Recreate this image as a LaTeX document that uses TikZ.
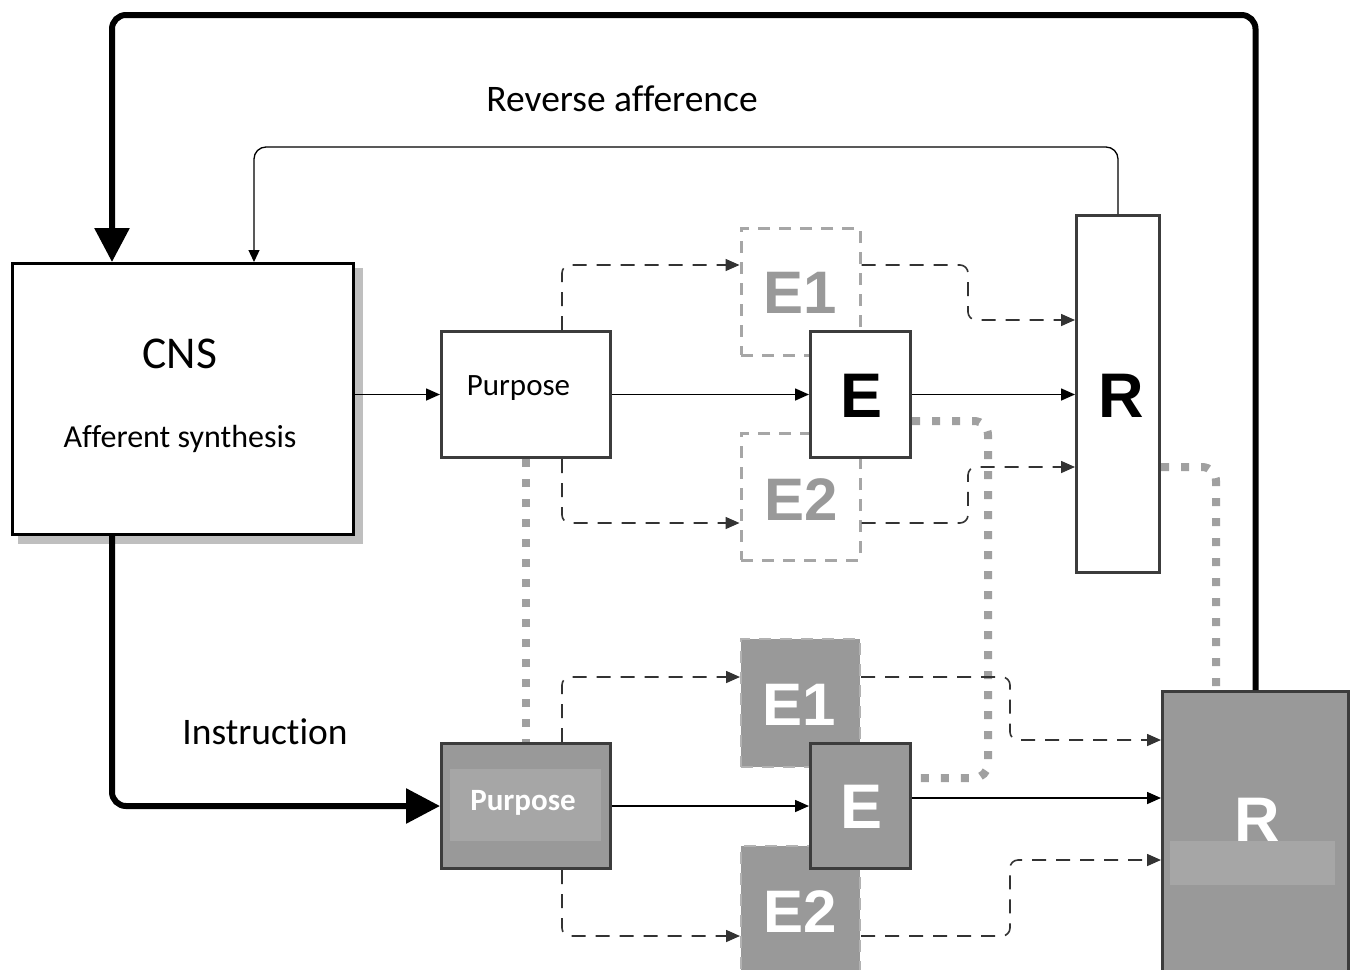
\documentclass[tikz,border=0pt]{standalone}
\usepackage{fontspec}
\setmainfont[Ligatures={NoCommon}]{Carlito}
\newfontfamily\arialf{Liberation Sans}
\usetikzlibrary{arrows.meta}
\definecolor{boxc}{HTML}{3C3C3C}
\definecolor{ghostc}{HTML}{A6A6A6}
\definecolor{ghosttxt}{HTML}{999999}
\definecolor{grayf}{HTML}{999999}
\definecolor{lightf}{HTML}{A6A6A6}
\definecolor{dashl}{HTML}{B2B2B2}
\definecolor{dashc}{HTML}{333333}
\definecolor{dotg}{HTML}{A0A0A0}
\definecolor{shadowc}{HTML}{BFBFBF}
\begin{document}
\begin{tikzpicture}[x=1pt,y=-1pt,
  box/.style={draw=boxc, line width=3pt, fill=white, inner sep=0pt},
  cnsbox/.style={draw=black, line width=3pt, fill=white, inner sep=0pt},
  ghost/.style={draw=ghostc, line width=3pt, dash pattern=on 12pt off 9pt, inner sep=0pt},
  gbox/.style={fill=grayf, draw=dashl, line width=2pt, dash pattern=on 12pt off 9pt, inner sep=0pt},
  dbox/.style={fill=grayf, draw=boxc, line width=3pt, inner sep=0pt},
  conn/.style={line width=1.6pt, -{Triangle[length=14pt,width=12pt]}},
  dconn/.style={conn, draw=dashc, dash pattern=on 14pt off 10pt, rounded corners=8pt},
  dotc/.style={draw=dotg, line width=8pt, dash pattern=on 8pt off 12pt, rounded corners=14pt},
  thickc/.style={line width=6pt, rounded corners=14pt, -{Triangle[length=34pt,width=34pt]}},
  txt/.style={anchor=base, inner sep=0pt},
  bigl/.style={txt, font=\arialf\bfseries\fontsize{63}{70}\selectfont},
]
\clip (0,0) rectangle (1357,969);
\fill[white] (0,0) rectangle (1357,969);

% shadow
\fill[shadowc] (18,268) rectangle (363,544);
% boxes
\node[cnsbox, minimum width=341pt, minimum height=271pt] (CNS) at (183,399) {};
\node[ghost, minimum width=119pt, minimum height=127pt] (E1T) at (800.5,291.5) {};
\node[ghost, minimum width=119pt, minimum height=127pt] (E2T) at (800.5,496.5) {};
\node[box, minimum width=169pt, minimum height=126pt] (PurT) at (526,394.5) {};
\node[box, minimum width=100pt, minimum height=126pt] (ET) at (860.5,394.5) {};
\node[box, minimum width=83pt, minimum height=357pt] (RT) at (1118,394) {};

\node[gbox, minimum width=119pt, minimum height=128pt] (E1B) at (800.5,703) {};
\node[gbox, minimum width=119pt, minimum height=134pt] (E2B) at (800.5,913) {};
\node[dbox, minimum width=169pt, minimum height=125pt] (PurB) at (526,806) {};
\node[dbox, minimum width=100pt, minimum height=125pt] (EB) at (860.5,806) {};
\node[dbox, minimum width=186pt, minimum height=298pt] (RB) at (1255.5,840.5) {};
\fill[lightf] (450,769) rectangle (601,841);

% texts
\node[txt, font=\fontsize{45.5}{54}\selectfont] (tCNS) at (180,368) {CNS};
\node[txt, font=\fontsize{32}{38}\selectfont] (tAff) at (180,447) {Afferent synthesis};
\node[txt, font=\fontsize{37.5}{44}\selectfont] (tRev) at (622,111) {Reverse afference};
\node[txt, font=\fontsize{37.5}{44}\selectfont] (tIns) at (265,744) {Instruction};
\node[txt, font=\fontsize{31}{38}\selectfont] (tPT) at (518.5,395) {Purpose};
\node[txt, font=\bfseries\fontsize{31}{38}\selectfont, text=white] (tPB) at (523,810) {Purpose};
\node[bigl] (tET) at (861,417) {E};
\node[bigl, text=ghosttxt, font=\arialf\bfseries\fontsize{60}{70}\selectfont] (tE1T) at (800,313) {E1};
\node[bigl, text=ghosttxt, font=\arialf\bfseries\fontsize{60}{70}\selectfont] (tE2T) at (801,520) {E2};
\node[bigl] (tRT) at (1121,417) {R};
\node[bigl, text=white] (tEB) at (861,828) {E};
\node[bigl, text=white, font=\arialf\bfseries\fontsize{60}{70}\selectfont] (tE1B) at (799,725) {E1};
\node[bigl, text=white, font=\arialf\bfseries\fontsize{60}{70}\selectfont] (tE2B) at (800,932) {E2};
\node[bigl, text=white] (tRB) at (1257,841) {R};
\fill[lightf] (1170,841) rectangle (1335,885);

% waypoints
\coordinate (a1) at (562,265);
\coordinate (b2) at (968,320);
\coordinate (c1) at (562,523);
\coordinate (c2) at (968,467);
\coordinate (d1) at (562,677);
\coordinate (e2) at (1010,740);
\coordinate (f1) at (562,936);
\coordinate (f2) at (1010,860);
\coordinate (g1) at (0,798);
\coordinate (t3) at (112,15);
\coordinate (r3) at (254,147);
\coordinate (p1) at (0,421);
\coordinate (p2) at (988,778);
\coordinate (q2) at (1216,0);

% dotted
\draw[dotc] (PurT.south) -- (PurB.north);
\draw[dotc] (ET.east |- p1) -| (p2) -- (EB.east |- p2);
\draw[dotc] (RT.east |- c2) -| (RB.north -| q2);

% solid connectors
\draw[conn] (CNS.east |- PurT.west) -- (PurT.west);
\draw[conn] (PurT.east) -- (ET.west);
\draw[conn] (ET.east) -- (RT.west |- ET.east);
\draw[conn] (PurB.east) -- (EB.west);
\draw[conn] (EB.east |- g1) -- (RB.west |- g1);

% dashed connectors
\draw[dconn] (PurT.north -| a1) |- (E1T.west |- a1);
\draw[dconn] (E1T.east |- a1) -| (b2) -- (RT.west |- b2);
\draw[dconn] (PurT.south -| c1) |- (E2T.west |- c1);
\draw[dconn] (E2T.east |- c1) -| (c2) -- (RT.west |- c2);
\draw[dconn] (PurB.north -| d1) |- (E1B.west |- d1);
\draw[dconn] (E1B.east |- d1) -| (e2) -- (RB.west |- e2);
\draw[dconn] (PurB.south -| f1) |- (E2B.west |- f1);
\draw[dconn] (E2B.east |- f1) -| (f2) -- (RB.west |- f2);

% feedback
\draw[conn, line width=1.3pt, rounded corners=12pt, -{Triangle[length=12pt,width=11pt]}] (RT.north) |- (r3) -- (CNS.north -| r3);
\draw[thickc] (RB.north) |- (t3) -- (CNS.north -| t3);
\draw[thickc] (CNS.south -| t3) |- (PurB.west);
\end{tikzpicture}
\end{document}
